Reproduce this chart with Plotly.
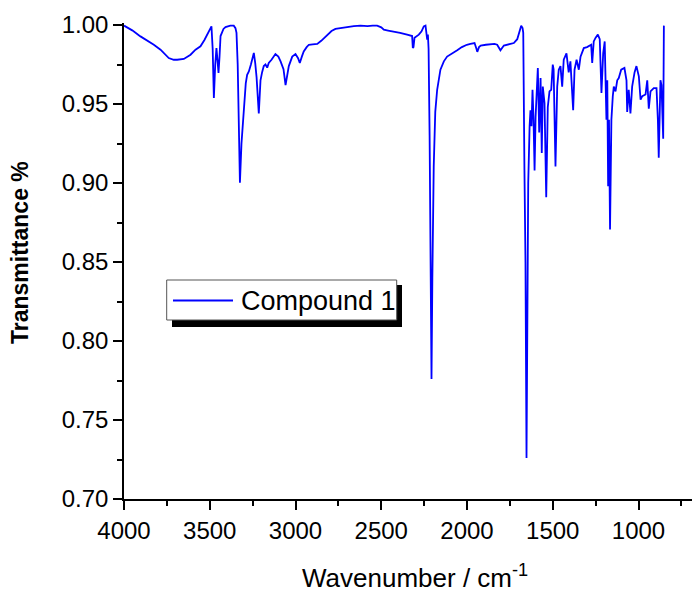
import plotly.graph_objects as go

# ---- data ----
wavenumber = [
    4000, 3952, 3904, 3855, 3826, 3787, 3768, 3739, 3710, 3690, 3651, 3612, 3583, 3554, 3531,
    3505, 3490, 3483, 3476, 3468, 3461, 3455, 3449, 3443, 3437, 3420, 3408, 3380, 3360, 3350,
    3344, 3337, 3330, 3324, 3315, 3301, 3290, 3282, 3272, 3260, 3243, 3235, 3227, 3214, 3204,
    3195, 3185, 3175, 3165, 3156, 3140, 3117, 3100, 3087, 3070, 3058, 3048, 3039, 3019, 3000,
    2985, 2975, 2963, 2952, 2935, 2922, 2900, 2873, 2850, 2815, 2790, 2767, 2738, 2699, 2660,
    2621, 2580, 2550, 2524, 2500, 2485, 2460, 2427, 2390, 2349, 2320, 2316, 2312, 2306, 2281,
    2265, 2252, 2242, 2235, 2232, 2228, 2224, 2218, 2212, 2207, 2202, 2194, 2185, 2174, 2155,
    2135, 2116, 2090, 2057, 2030, 2001, 1980, 1956, 1945, 1940, 1930, 1920, 1890, 1863, 1840,
    1824, 1805, 1785, 1766, 1745, 1727, 1707, 1695, 1684, 1676, 1672, 1665, 1659, 1653, 1648,
    1643, 1635, 1630, 1624, 1618, 1612, 1606, 1600, 1595, 1587, 1579, 1571, 1564, 1558, 1548,
    1538, 1529, 1519, 1509, 1500, 1495, 1484, 1474, 1465, 1455, 1445, 1436, 1420, 1407, 1397,
    1381, 1373, 1361, 1348, 1338, 1319, 1300, 1290, 1276, 1270, 1261, 1250, 1237, 1226, 1216,
    1206, 1197, 1187, 1182, 1177, 1172, 1166, 1162, 1158, 1150, 1144, 1134, 1124, 1115, 1101,
    1082, 1070, 1066, 1057, 1047, 1037, 1023, 1012, 998, 988, 978, 959, 949, 940, 930,
    911, 895, 887, 882, 877, 872, 866, 856, 852,
]
transmittance = [
    0.9996, 0.9966, 0.9928, 0.9896, 0.9875, 0.9844, 0.9823, 0.9791, 0.9780, 0.9780, 0.9785, 0.9812, 0.9844, 0.9865, 0.9905,
    0.9960, 0.9991, 0.9850, 0.9538, 0.9750, 0.9854, 0.9780, 0.9696, 0.9800, 0.9930, 0.9975, 0.9987, 0.9996, 0.9996, 0.9980,
    0.9950, 0.9750, 0.9300, 0.9002, 0.9250, 0.9470, 0.9630, 0.9685, 0.9706, 0.9750, 0.9823, 0.9760, 0.9670, 0.9440, 0.9650,
    0.9700, 0.9740, 0.9750, 0.9730, 0.9760, 0.9780, 0.9816, 0.9800, 0.9770, 0.9720, 0.9620, 0.9700, 0.9740, 0.9800, 0.9816,
    0.9790, 0.9760, 0.9800, 0.9833, 0.9860, 0.9875, 0.9878, 0.9880, 0.9900, 0.9939, 0.9962, 0.9975, 0.9980, 0.9991, 0.9993,
    0.9996, 0.9993, 0.9996, 0.9996, 0.9985, 0.9970, 0.9965, 0.9960, 0.9950, 0.9939, 0.9930, 0.9854, 0.9860, 0.9920, 0.9939,
    0.9960, 0.9991, 0.9996, 0.9950, 0.9907, 0.9940, 0.9850, 0.9300, 0.8500, 0.7760, 0.8400, 0.9105, 0.9450, 0.9590, 0.9717,
    0.9770, 0.9800, 0.9820, 0.9840, 0.9860, 0.9875, 0.9880, 0.9886, 0.9850, 0.9830, 0.9860, 0.9870, 0.9875, 0.9880, 0.9880,
    0.9875, 0.9840, 0.9870, 0.9875, 0.9880, 0.9886, 0.9910, 0.9960, 0.9996, 0.9980, 0.9950, 0.9080, 0.8500, 0.7260, 0.8000,
    0.9000, 0.9360, 0.9460, 0.9360, 0.9590, 0.9400, 0.9080, 0.9420, 0.9590, 0.9728, 0.9320, 0.9664, 0.9190, 0.9610, 0.9506,
    0.8910, 0.9480, 0.9580, 0.9590, 0.9749, 0.9720, 0.9105, 0.9610, 0.9717, 0.9740, 0.9610, 0.9780, 0.9820, 0.9700, 0.9770,
    0.9460, 0.9717, 0.9780, 0.9717, 0.9800, 0.9854, 0.9860, 0.9865, 0.9875, 0.9760, 0.9896, 0.9920, 0.9939, 0.9910, 0.9570,
    0.9820, 0.9896, 0.9400, 0.9650, 0.8980, 0.9400, 0.8705, 0.9050, 0.9400, 0.9548, 0.9610, 0.9580, 0.9650, 0.9664, 0.9717,
    0.9728, 0.9650, 0.9450, 0.9590, 0.9440, 0.9610, 0.9700, 0.9740, 0.9675, 0.9527, 0.9550, 0.9560, 0.9650, 0.9470, 0.9580,
    0.9600, 0.9600, 0.9400, 0.9160, 0.9450, 0.9650, 0.9620, 0.9280, 0.9996,
]
series_name = "Compound 1"

x_tickvals = [4000, 3500, 3000, 2500, 2000, 1500, 1000]
x_ticktext = ["4000", "3500", "3000", "2500", "2000", "1500", "1000"]
y_tickvals = [0.70, 0.75, 0.80, 0.85, 0.90, 0.95, 1.00]
y_ticktext = ["0.70", "0.75", "0.80", "0.85", "0.90", "0.95", "1.00"]

# ---- layout geometry ----
# The page body has an 8 px margin, so figure coordinates = page coordinates - 8.
OFF = 8
W, H = 700 - OFF, 596 - OFF
PLOT_LEFT, PLOT_RIGHT, PLOT_TOP, PLOT_BOTTOM = 124, 700, 23, 499   # page pixels
L = PLOT_LEFT - OFF
R = W - (PLOT_RIGHT - OFF)
T = PLOT_TOP - OFF
B = H - (PLOT_BOTTOM - OFF)
PW, PH = W - L - R, H - T - B
X_RANGE = [4000, 4000 - PW / 0.1715]
Y_RANGE = [0.70, 0.70 + PH / 1580.0]


def px(xp):
    """page x pixel -> paper fraction"""
    return (xp - OFF - L) / PW


def py(yp):
    """page y pixel -> paper fraction"""
    return (H - B - (yp - OFF)) / PH


FONT = "Arial, Liberation Sans, Helvetica, sans-serif"

fig = go.Figure()
fig.add_trace(go.Scatter(
    x=wavenumber, y=transmittance, mode="lines", name=series_name,
    line=dict(color="#0000FF", width=1.8), showlegend=False,
))

axis_common = dict(
    showline=True, linecolor="black", linewidth=1.5, mirror=False,
    ticks="outside", tickcolor="black", tickwidth=1.5, ticklen=9,
    showgrid=False, zeroline=False,
    tickfont=dict(family=FONT, size=24, color="black"),
)

fig.update_xaxes(
    range=X_RANGE, tickmode="array", tickvals=x_tickvals, ticktext=x_ticktext,
    minor=dict(dtick=250, ticks="outside", ticklen=5, tickwidth=1.5, tickcolor="black", showgrid=False),
    **axis_common,
)
fig.update_yaxes(
    range=Y_RANGE, tickmode="array", tickvals=y_tickvals, ticktext=y_ticktext,
    minor=dict(dtick=0.025, tick0=0.7, ticks="outside", ticklen=5, tickwidth=1.5, tickcolor="black", showgrid=False),
    **axis_common,
)

shapes = [
    # legend shadow
    dict(type="rect", xref="paper", yref="paper", x0=px(172), x1=px(402), y0=py(327), y1=py(285),
         fillcolor="black", line=dict(width=0), layer="above"),
    # legend box
    dict(type="rect", xref="paper", yref="paper", x0=px(166.7), x1=px(396.7), y0=py(320), y1=py(280),
         fillcolor="white", line=dict(color="#555555", width=1), layer="above"),
    # legend sample line
    dict(type="line", xref="paper", yref="paper", x0=px(173), x1=px(233), y0=py(300.5), y1=py(300.5),
         line=dict(color="#0000FF", width=1.8), layer="above"),
]

annotations = [
    dict(text=series_name, xref="paper", yref="paper", x=px(239), y=py(301),
         xanchor="left", yanchor="middle", showarrow=False,
         font=dict(family=FONT, size=27, color="black")),
    dict(text="<b>Transmittance %</b>", xref="paper", yref="paper", x=px(20), y=py(253),
         xanchor="center", yanchor="middle", textangle=-90, showarrow=False,
         font=dict(family=FONT, size=23, color="black")),
    dict(text="Wavenumber / cm<sup>-1</sup>", xref="paper", yref="paper", x=px(415), y=py(576),
         xanchor="center", yanchor="middle", showarrow=False,
         font=dict(family=FONT, size=26, color="black")),
]

fig.update_layout(
    width=W, height=H,
    margin=dict(l=L, r=R, t=T, b=B, pad=0),
    paper_bgcolor="white", plot_bgcolor="white",
    shapes=shapes, annotations=annotations,
    showlegend=False,
)

fig.write_html("out.html")
